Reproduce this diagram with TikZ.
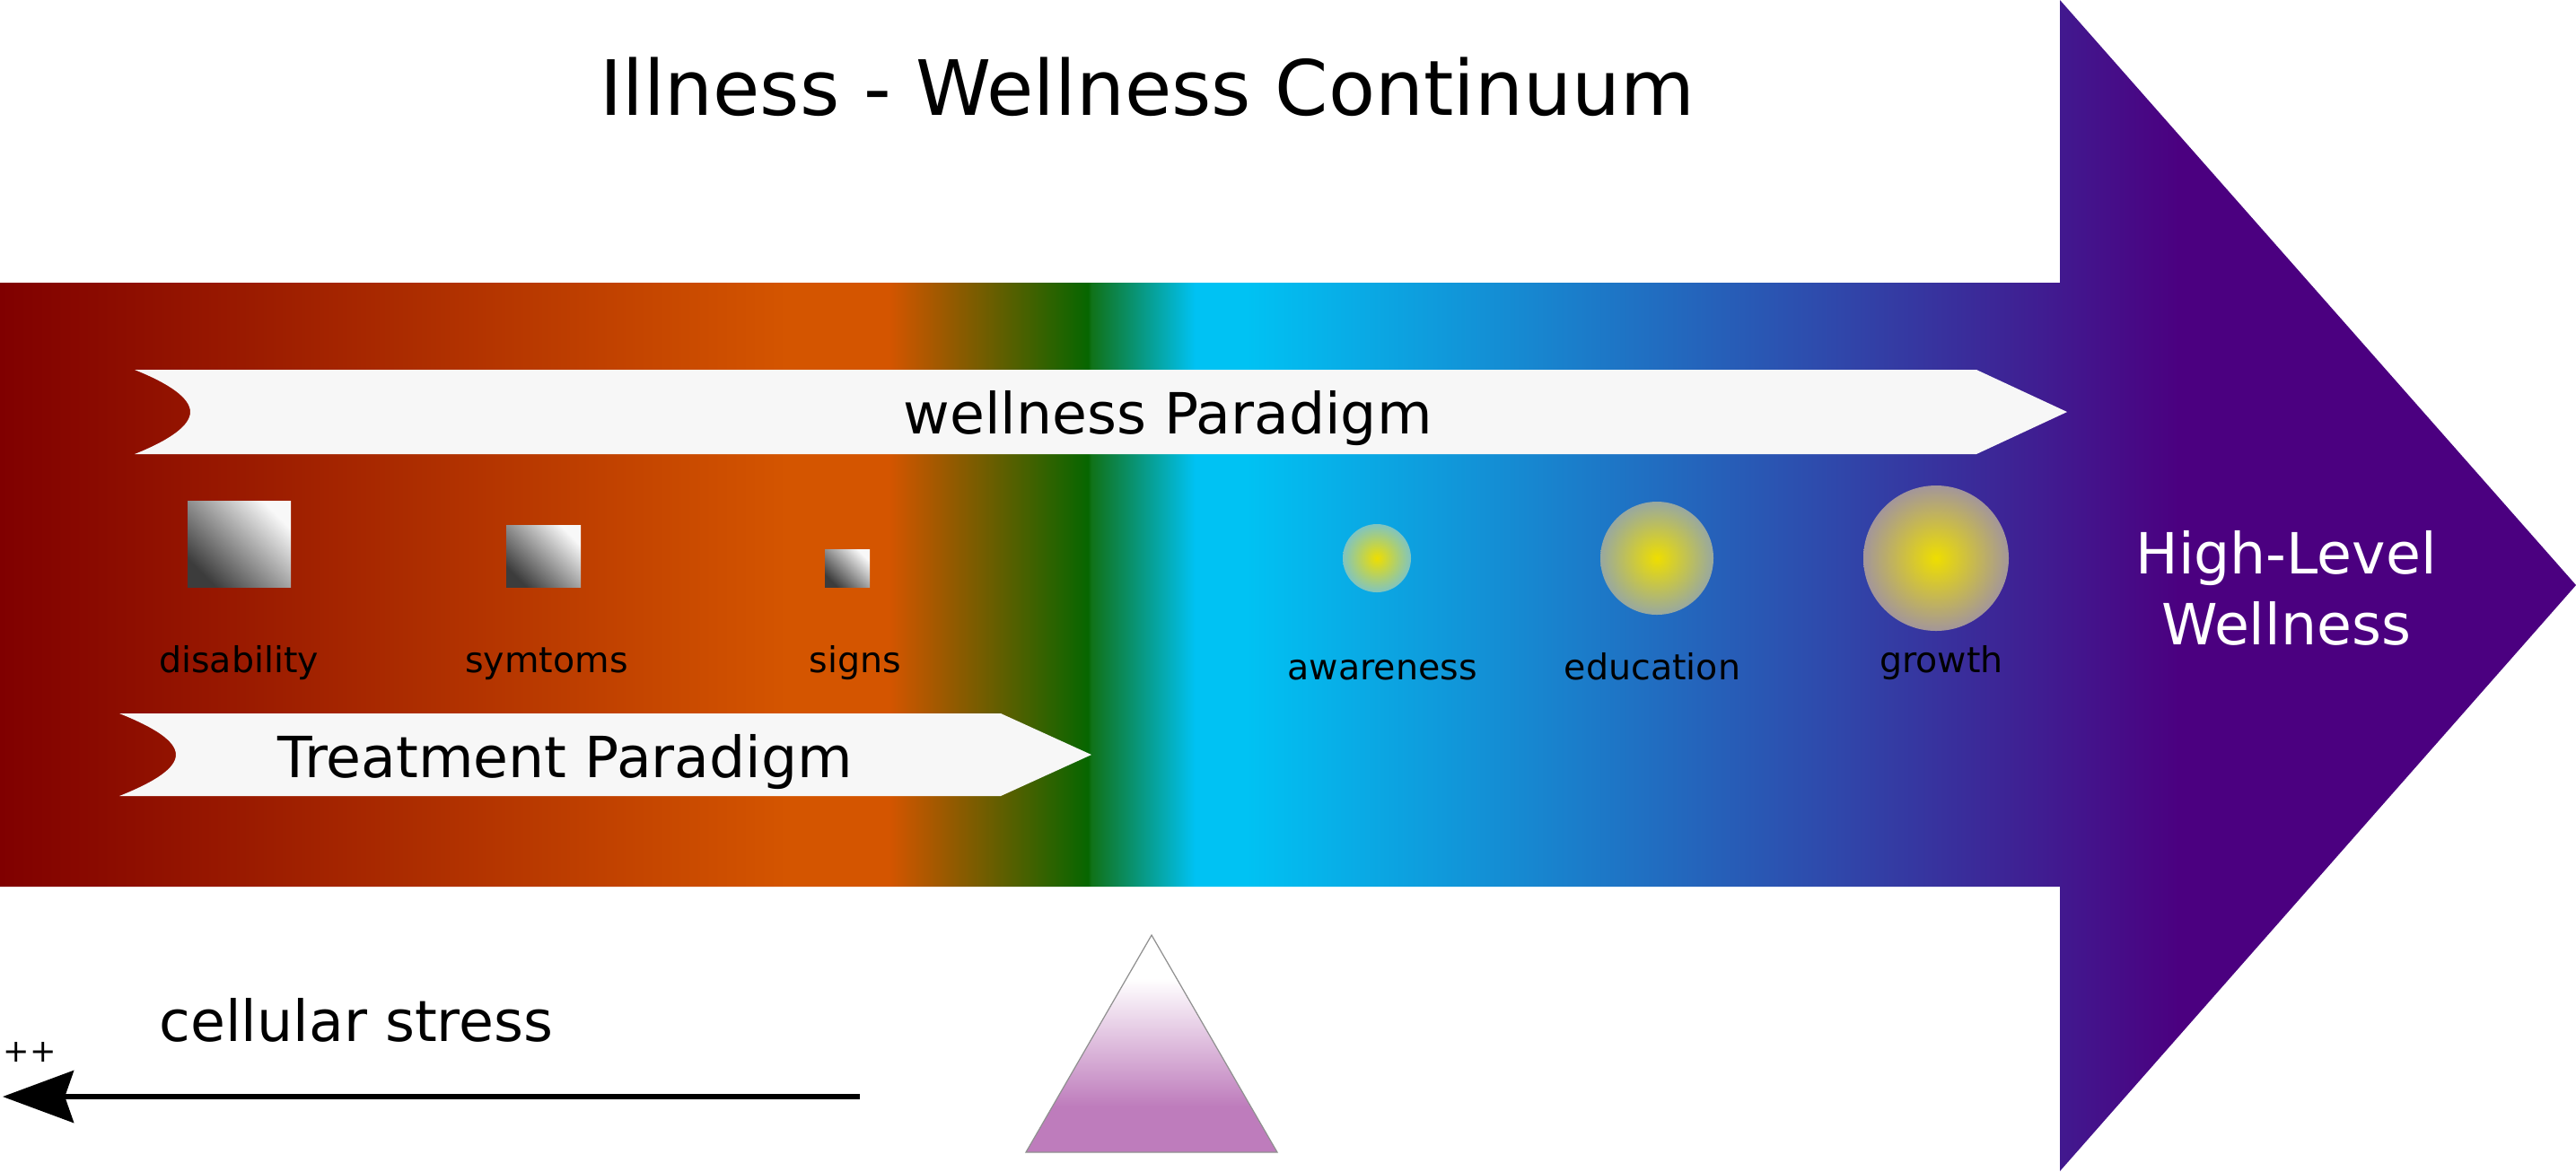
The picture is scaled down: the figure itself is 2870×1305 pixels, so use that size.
\documentclass[tikz,border=0pt]{standalone}
\usepackage{fontspec}
\setmainfont{DejaVu Sans}
\usetikzlibrary{arrows.meta}
\definecolor{cMaroon}{HTML}{800000}
\definecolor{cOrange}{HTML}{D45500}
\definecolor{cGreen}{HTML}{066600}
\definecolor{cGreenB}{HTML}{107218}
\definecolor{cCyan}{HTML}{00C2F3}
\definecolor{cPurple}{HTML}{4B0080}
\definecolor{cOrchid}{HTML}{BE7CBC}
\definecolor{triGray}{HTML}{909090}
\definecolor{bannerGray}{HTML}{F7F7F7}
\definecolor{sqDark}{HTML}{3C3C3C}
\definecolor{sqLight}{HTML}{F8F8F8}
\definecolor{cYel}{HTML}{EEDE00}
\definecolor{cAwOut}{HTML}{80C4C0}
\definecolor{cEdOut}{HTML}{98A8A0}
\definecolor{cGrOut}{HTML}{A3969A}
\pgfdeclarehorizontalshading{bodyshade}{100bp}{color(0bp)=(cMaroon); color(25bp)=(cMaroon); color(40.28bp)=(cOrange); color(42.26bp)=(cOrange); color(46.12bp)=(cGreen); color(46.18bp)=(cGreenB); color(48.2bp)=(cCyan); color(49.2bp)=(cCyan); color(67.3bp)=(cPurple); color(100bp)=(cPurple)}
\pgfdeclareverticalshading{trishade}{100bp}{color(0bp)=(cOrchid); color(35.5bp)=(cOrchid); color(65bp)=(white); color(100bp)=(white)}
\begin{document}
\begin{tikzpicture}[x=0.1mm,y=-0.1mm,
  banner/.style={fill=bannerGray, draw=none},
  bigtext/.style={font=\fontsize{18pt}{22.5pt}\selectfont, inner sep=0pt},
  smalltext/.style={font=\fontsize{11.25pt}{13.5pt}\selectfont, inner sep=0pt, anchor=base},
  sqbox/.style={top color=sqLight, bottom color=sqDark, shading angle=-45},
]
\useasboundingbox (0,0) rectangle (2870,1305);

% big arrow
\shade[shading=bodyshade] (0,315) -- (2295,315) -- (2295,0) -- (2870,652) -- (2295,1305) -- (2295,988) -- (0,988) -- cycle;

% banners
\fill[banner] (150,412) -- (2202,412) -- (2303,459) -- (2202,506) -- (150,506)
  .. controls (190,490) and (212,474) .. (212,459)
  .. controls (212,444) and (190,428) .. (150,412) -- cycle;
\fill[banner] (133,795) -- (1115,795) -- (1216,841) -- (1115,887) -- (133,887)
  .. controls (173,871) and (196,856) .. (196,841)
  .. controls (196,826) and (173,811) .. (133,795) -- cycle;

% title and texts
\node[font=\fontsize{24.2pt}{29pt}\selectfont, anchor=base, inner sep=0pt] (title) at (1278,128) {Illness - Wellness Continuum};
\node[bigtext, anchor=base] (wellpar) at (1301,483) {wellness Paradigm};
\node[bigtext, anchor=base] (treatpar) at (630,866) {Treatment Paradigm};
\node[bigtext, text=white, align=center] (highlevel) at (2547,655) {High-Level\\Wellness};

% squares
\shade[sqbox] (209,558) rectangle (324,654);
\shade[sqbox] (564,585) rectangle (647,654);
\shade[sqbox] (919,612) rectangle (969,654);
\node[smalltext] (disab) at (266,749) {disability};
\node[smalltext] (sympt) at (609,749) {symtoms};
\node[smalltext] (signs) at (953,749) {signs};

% circles
\shade[inner color=cYel, outer color=cAwOut] (1534,622) circle[radius=3.8mm];
\shade[inner color=cYel, outer color=cEdOut] (1846,622) circle[radius=6.3mm];
\shade[inner color=cYel, outer color=cGrOut] (2157,622) circle[radius=8.1mm];
\node[smalltext] (aware) at (1540,757) {awareness};
\node[smalltext] (educ) at (1841,757) {education};
\node[smalltext] (growth) at (2163,749) {growth};

% cellular stress arrow
\node[bigtext, anchor=base] (cstress) at (397,1160) {cellular stress};
\node[font=\fontsize{10pt}{12pt}\selectfont, inner sep=0pt] (plusplus) at (33,1172) {++};
\coordinate (csStart) at (958,1222);
\coordinate (csEnd) at (3,1222);
\draw[line width=1.55pt, -{Stealth[length=22.5pt,width=16.5pt,inset=2.8pt]}] (csStart) -- (csEnd);

% triangle
\shadedraw[shading=trishade, draw=triGray, line width=0.35pt] (1283,1042) -- (1423,1284) -- (1143,1284) -- cycle;
\end{tikzpicture}
\end{document}
